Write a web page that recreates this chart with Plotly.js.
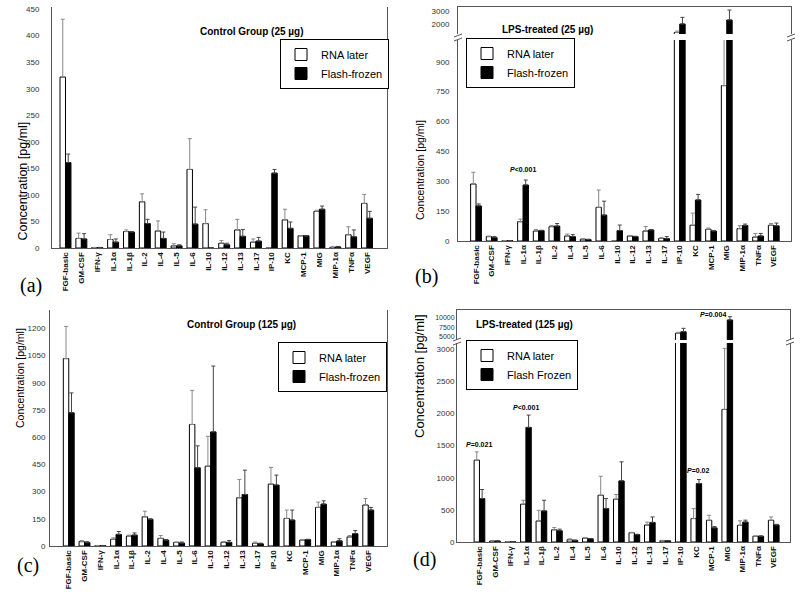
<!DOCTYPE html>
<html>
<head>
<meta charset="utf-8">
<script src="https://cdn.plot.ly/plotly-3.0.1.min.js"></script>
<style>
  html, body { margin: 0; padding: 0; background: #fff; }
  #plot { width: 800px; height: 594px; }
</style>
</head>
<body>
<div id="plot"></div>
<script>
// cytokine panel, same order in every chart
const cats = ['FGF-basic', 'GM-CSF', 'IFN-γ', 'IL-1α', 'IL-1β', 'IL-2', 'IL-4', 'IL-5', 'IL-6', 'IL-10',
              'IL-12', 'IL-13', 'IL-17', 'IP-10', 'KC', 'MCP-1', 'MIG', 'MIP-1α', 'TNFα', 'VEGF'];

// (a) control group, 25 ug
const aRna    = [322, 18, 1, 16, 31, 87, 32, 4, 148, 46, 9, 34, 11, 0, 53, 23, 69, 1, 25, 84];
const aRnaErr = [109, 10, 0, 9, 3, 15, 19, 4, 58, 26, 5, 20, 6, 0, 20, 0, 2, 2, 15, 17];
const aFf     = [161, 17, 1, 11, 30, 46, 18, 4, 45, 0, 6, 22, 13, 141, 37, 23, 73, 2, 21, 56];
const aFfErr  = [16, 10, 0, 6, 1, 8, 12, 2, 32, 0, 3, 13, 7, 7, 12, 0, 6, 1, 13, 13];

// (b) LPS-treated, 25 ug
const bRna    = [286, 22, 2, 97, 50, 72, 25, 9, 169, 0, 25, 50, 13, 1400, 79, 59, 780, 62, 20, 79];
const bRnaErr = [59, 3, 0, 13, 8, 6, 10, 2, 87, 0, 3, 23, 5, 100, 61, 6, 420, 15, 18, 9];
const bFf     = [176, 17, 2, 281, 52, 75, 22, 7, 130, 52, 22, 55, 12, 2020, 206, 50, 2316, 78, 25, 76];
const bFfErr  = [10, 5, 0, 25, 2, 13, 10, 2, 70, 28, 2, 3, 10, 490, 28, 2, 734, 7, 13, 14];

// (c) control group, 125 ug
const cRna    = [1033, 24, 2, 37, 55, 161, 42, 20, 670, 440, 20, 266, 15, 341, 152, 33, 213, 22, 50, 226];
const cRnaErr = [178, 6, 0, 8, 5, 31, 16, 2, 188, 165, 5, 101, 7, 92, 46, 2, 29, 3, 8, 36];
const cFf     = [734, 18, 2, 64, 60, 147, 32, 16, 431, 629, 20, 284, 12, 336, 143, 35, 231, 28, 68, 198];
const cFfErr  = [110, 6, 0, 16, 12, 3, 4, 6, 121, 363, 10, 134, 4, 55, 55, 2, 18, 12, 17, 15];

// (d) LPS-treated, 125 ug
const dRna    = [1274, 15, 3, 588, 327, 190, 35, 60, 728, 666, 145, 265, 20, 5900, 365, 338, 2064, 260, 90, 338];
const dRnaErr = [129, 3, 0, 62, 167, 35, 15, 5, 296, 73, 5, 45, 5, 260, 155, 78, 951, 70, 5, 52];
const dFf     = [676, 15, 3, 1784, 484, 175, 25, 50, 520, 951, 115, 305, 18, 6300, 910, 219, 9400, 310, 90, 265];
const dFfErr  = [141, 3, 0, 192, 166, 25, 5, 5, 156, 297, 5, 85, 4, 900, 63, 21, 860, 30, 5, 10];

const FONT = 'Liberation Sans, Arial, sans-serif';
const W = 800, H = 594;
const px = (x) => x / W;
const py = (y) => 1 - y / H;

function bars(name, y, err, xa, ya, rna, legend, show) {
    return {
        type: 'bar', name: name, x: cats, y: y, xaxis: xa, yaxis: ya,
        legend: legend, showlegend: show,
        marker: { color: rna ? '#fff' : '#000', line: { color: '#000', width: 1 } },
        error_y: {
            type: 'data', symmetric: false, array: err, arrayminus: err.map(() => 0),
            color: rna ? '#888' : '#444', thickness: 1, width: 2
        },
        hoverinfo: 'x+y'
    };
}

const traces = [
    bars('RNA later', aRna, aRnaErr, 'x', 'y', true, 'legend', true),
    bars('Flash-frozen', aFf, aFfErr, 'x', 'y', false, 'legend', true),
    bars('RNA later', bRna, bRnaErr, 'x2', 'y2', true, 'legend2', true),
    bars('Flash-frozen', bFf, bFfErr, 'x2', 'y2', false, 'legend2', true),
    bars('RNA later', bRna, bRnaErr, 'x3', 'y3', true, 'legend2', false),
    bars('Flash-frozen', bFf, bFfErr, 'x3', 'y3', false, 'legend2', false),
    bars('RNA later', cRna, cRnaErr, 'x4', 'y4', true, 'legend3', true),
    bars('Flash-frozen', cFf, cFfErr, 'x4', 'y4', false, 'legend3', true),
    bars('RNA later', dRna, dRnaErr, 'x5', 'y5', true, 'legend4', true),
    bars('Flash Frozen', dFf, dFfErr, 'x5', 'y5', false, 'legend4', true),
    bars('RNA later', dRna, dRnaErr, 'x6', 'y6', true, 'legend4', false),
    bars('Flash Frozen', dFf, dFfErr, 'x6', 'y6', false, 'legend4', false)
];

const lineCol = '#555';
function xAxis(domain, range, anchor, extra) {
    return Object.assign({
        domain: domain, range: range, anchor: anchor, type: 'category',
        showline: true, linecolor: lineCol, linewidth: 1, ticks: '', showgrid: false, zeroline: false,
        tickangle: -90, tickfont: { family: FONT, size: 8, weight: 'bold', color: '#111' }
    }, extra || {});
}
function yAxis(domain, range, anchor, dtick, standoff, extra) {
    return Object.assign({
        domain: domain, range: range, anchor: anchor, dtick: dtick, tick0: 0, tickformat: 'd',
        showline: true, mirror: true, linecolor: lineCol, linewidth: 1, ticks: '',
        showgrid: false, zeroline: false, ticklabelstandoff: standoff,
        tickfont: { family: FONT, size: 8, color: '#333' }
    }, extra || {});
}
function legendBox(x, y) {
    return {
        x: x, y: y, xanchor: 'left', yanchor: 'top', bgcolor: '#fff', bordercolor: '#000', borderwidth: 1,
        font: { family: FONT, size: 11, color: '#000' }, itemwidth: 30, tracegroupgap: 0, traceorder: 'normal'
    };
}

const hidden = { showticklabels: false, side: 'top' };

const annText = (text, x, y, size, extra) => Object.assign({
    text: text, x: x, y: y, xref: 'paper', yref: 'paper', showarrow: false,
    font: { family: FONT, size: size, color: '#000' }
}, extra || {});

const ytitle = (x, y, size) => annText('Concentration [pg/ml]', x, y, size, { textangle: -90 });
const pLabel = (text, xa, ya, x, y) => annText(text, x, y, 7, { xref: xa, yref: ya, yanchor: 'bottom' });
const letter = (t, x, y) => annText(t, px(x), py(y), 20, { font: { family: 'Liberation Serif, serif', size: 20, color: '#000' } });

// little break marks on broken axes
function brk(x, y) {
    return [
        { type: 'line', xref: 'paper', yref: 'paper', x0: px(x - 4), y0: py(y + 1), x1: px(x + 4), y1: py(y - 2), line: { color: lineCol, width: 1 } },
        { type: 'line', xref: 'paper', yref: 'paper', x0: px(x - 4), y0: py(y + 5), x1: px(x + 4), y1: py(y + 2), line: { color: lineCol, width: 1 } }
    ];
}

const layout = {
    width: W, height: H, margin: { l: 0, r: 0, t: 0, b: 0 },
    paper_bgcolor: '#fff', plot_bgcolor: '#fff',
    barmode: 'group', bargap: 0.31, bargroupgap: 0,
    font: { family: FONT },
    xaxis:  xAxis([px(52), px(387)], [-0.85, 20.26], 'y'),
    yaxis:  yAxis([py(248), py(7)], [0, 454], 'x', 50, 10),
    xaxis2: xAxis([px(458), px(791)], [-1.15, 20.10], 'y2'),
    yaxis2: yAxis([py(241), py(40)], [0, 1009], 'x2', 150, 6),
    xaxis3: xAxis([px(458), px(791)], [-1.15, 20.10], 'y3', hidden),
    yaxis3: yAxis([py(34), py(7)], [1287, 3272], 'x3', 1000, 6, { tickvals: [2000, 3000] }),
    xaxis4: xAxis([px(50), px(387)], [-1.19, 20.19], 'y4'),
    yaxis4: yAxis([py(546), py(310)], [0, 1301], 'x4', 150, 2),
    xaxis5: xAxis([px(457), px(790)], [-1.45, 20.05], 'y5'),
    yaxis5: yAxis([py(542), py(343)], [0, 3098], 'x5', 500, 0),
    xaxis6: xAxis([px(457), px(790)], [-1.45, 20.05], 'y6', hidden),
    yaxis6: yAxis([py(340), py(310)], [4132, 12026], 'x6', 2500, 0,
                  { tickvals: [5000, 7500, 10000], tickfont: { family: FONT, size: 7, color: '#333' } }),
    legend:  legendBox(px(280), py(39)),
    legend2: legendBox(px(466), py(38)),
    legend3: legendBox(px(278), py(342)),
    legend4: legendBox(px(466), py(340)),
    annotations: [
        annText('<b>Control Group (25 µg)</b>', px(198), py(24), 10),
        annText('<b>LPS-treated (25 µg)</b>', px(595), py(22), 10),
        annText('<b>Control Group (125 µg)</b>', px(185), py(324), 10),
        annText('<b>LPS-treated (125 µg)</b>', px(575), py(324), 10),
        ytitle(px(13), py(120), 12.5),
        ytitle(px(420), py(118), 10.5),
        ytitle(px(12), py(430), 10.5),
        ytitle(px(419), py(440), 13),
        pLabel('<b><i>P</i><0.001</b>', 'x2', 'y2', 3, 330),
        pLabel('<b><i>P</i>=0.021</b>', 'x5', 'y5', 0, 1440),
        pLabel('<b><i>P</i><0.001</b>', 'x5', 'y5', 3, 2010),
        pLabel('<b><i>P</i>=0.02</b>', 'x5', 'y5', 14.1, 1030),
        pLabel('<b><i>P</i>=0.004</b>', 'x6', 'y6', 15.1, 9500),
        letter('(a)', 18, 286),
        letter('(b)', 426, 276),
        letter('(c)', 15, 579),
        letter('(d)', 424, 573)
    ],
    shapes: [].concat(brk(458, 36), brk(791, 36), brk(457, 340), brk(790, 340))
};

Plotly.newPlot('plot', traces, layout, { displayModeBar: false, staticPlot: true });
</script>
</body>
</html>
